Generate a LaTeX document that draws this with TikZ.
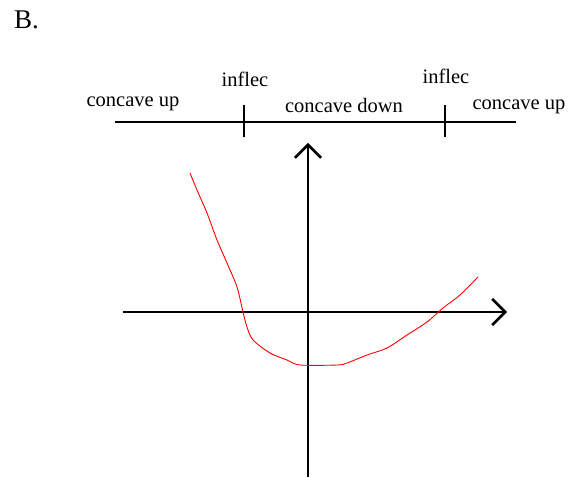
\documentclass[tikz,border=0pt]{standalone}
\usepackage{fontspec}
\setmainfont{Liberation Serif}
\usepackage{tikz}
\usetikzlibrary{arrows.meta}

\begin{document}
\begin{tikzpicture}[
  x=1pt, y=-1pt, font=\fontsize{20.5}{24}\selectfont,
  lbl/.style={anchor=base, inner sep=0pt},
  ax/.style={line width=2.6pt, -{Straight Barb[length=13pt, width=26pt, line width=2.6pt]}},
  nl/.style={line width=1.3pt},
  crv/.style={red, line width=0.9pt}
]
\useasboundingbox (0,0) rectangle (579,478);
% title
\node[lbl, anchor=base west, font=\fontsize{27}{30}\selectfont] (title) at (14,29) {B.};
% number line with sign of f''
\coordinate (nlL) at (115,122);
\coordinate (nlR) at (516,122);
\coordinate (tkAt) at (244,105);
\coordinate (tkAb) at (244,137);
\coordinate (tkBt) at (445,105);
\coordinate (tkBb) at (445,137);
\draw[nl] (nlL) -- (nlR);
\draw[nl] (tkAt) -- (tkAb);
\draw[nl] (tkBt) -- (tkBb);
\node[lbl] (infA) at (245,87) {inflec};
\node[lbl] (infB) at (446,84) {inflec};
\node[lbl] (cuL) at (133,107) {concave up};
\node[lbl] (cd) at (344,113) {concave down};
\node[lbl] (cuR) at (519,110) {concave up};
% axes
\coordinate (xL) at (123,312);
\coordinate (xR) at (507,312);
\coordinate (yB) at (308,477);
\coordinate (yT) at (308,143);
\draw[ax] (xL) -- (xR);
\draw[ax] (yB) -- (yT);
% sketch of f
\draw[crv] plot[smooth, tension=0.5] coordinates {
  (190,173) (197,190) (207,213) (217,240) (227,263) (237,287) (243,312)
  (247,327) (253,340) (270,353) (287,360) (300,365) (337,365) (347,363)
  (367,355) (387,348) (407,335) (427,322) (443,308) (460,295) (478,277)};
\end{tikzpicture}
\end{document}
